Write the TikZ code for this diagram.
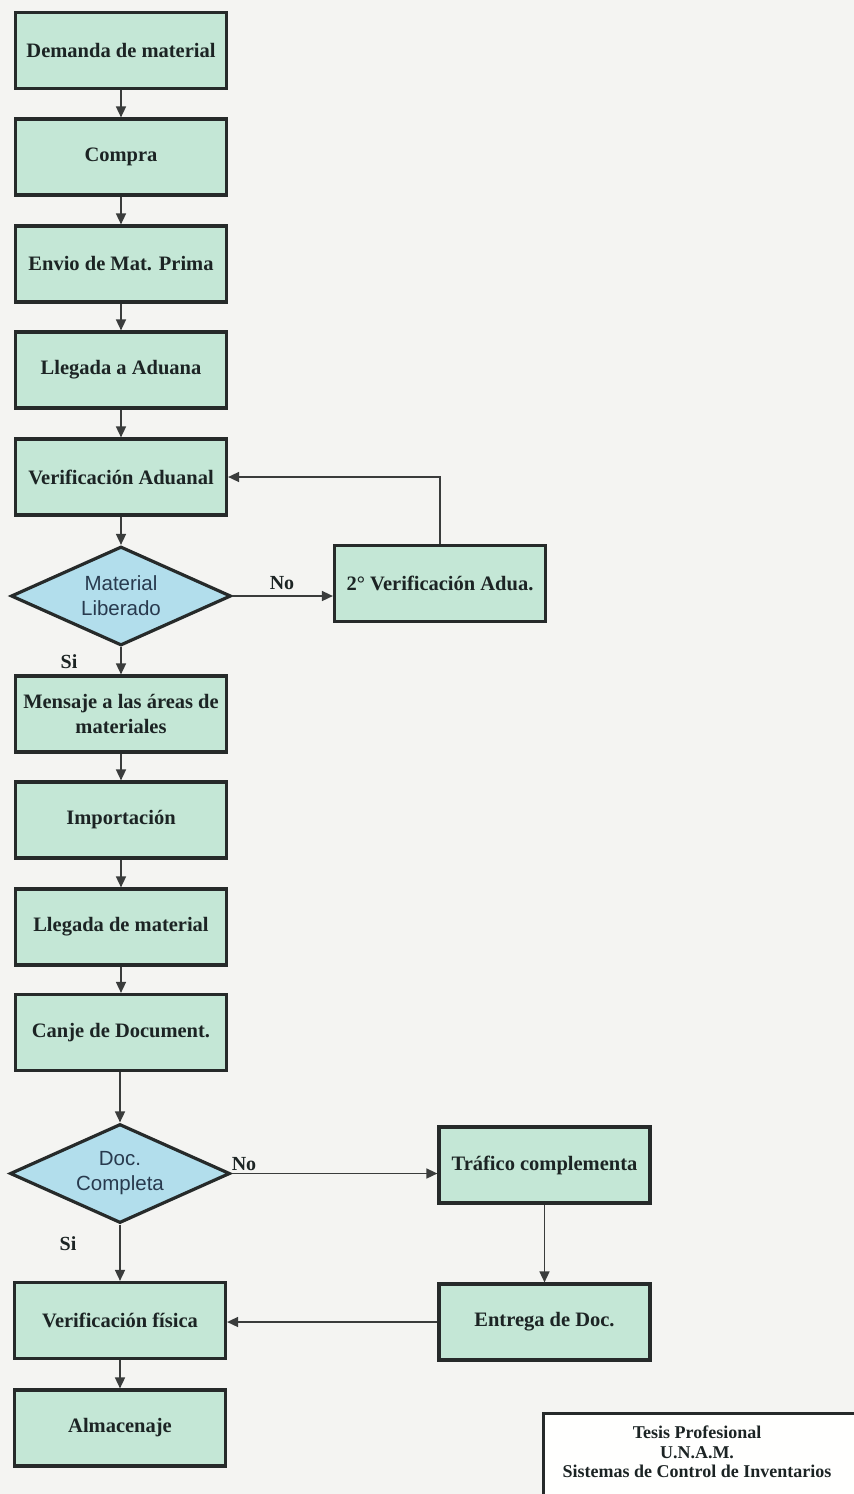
\documentclass[tikz,border=0pt]{standalone}
\usepackage{fontspec}
\setmainfont{Liberation Serif}
\newfontfamily\diamondfont{Liberation Sans}
\usetikzlibrary{shapes.geometric,arrows.meta}

\definecolor{paper}{RGB}{244,244,242}
\definecolor{stepfill}{RGB}{196,231,214}
\definecolor{askfill}{RGB}{178,222,236}
\definecolor{edge}{RGB}{38,42,42}
\definecolor{ink}{RGB}{28,36,36}
\definecolor{askink}{RGB}{40,58,78}
\definecolor{wire}{RGB}{58,60,60}

\begin{document}
\begin{tikzpicture}[x=1pt,y=-1pt,
  stepbox/.style={draw=edge, line width=3.2pt, fill=stepfill,
    minimum width=211pt, minimum height=76pt, inner sep=1pt, align=center,
    font=\bfseries\fontsize{20.5}{25}\selectfont, text=ink},
  askbox/.style={diamond, shape aspect=2.2, draw=edge, line width=3.2pt, fill=askfill,
    minimum width=220pt, minimum height=99pt, inner sep=0pt, align=center,
    font=\diamondfont\fontsize{20.5}{25}\selectfont, text=askink},
  flow/.style={draw=wire, line width=1.6pt, -{Triangle[length=11pt,width=10pt]}},
  tag/.style={font=\bfseries\fontsize{20}{24}\selectfont, text=ink, inner sep=0pt},
  creditbox/.style={draw=edge, line width=3pt, fill=white!96!paper},
  credittext/.style={align=center, inner sep=0pt, text=ink,
    font=\bfseries\fontsize{18}{19.5}\selectfont},
]
% page and its background
\useasboundingbox (0,0) rectangle (854,1494);
\fill[paper] (0,0) rectangle (854,1494);
\clip (0,0) rectangle (854,1494);

% main column of steps
\node[stepbox] (demanda)  at (121,50.5)  {Demanda de material};
\node[stepbox] (compra)   at (121,157)   {Compra};
\node[stepbox] (envio)    at (121,264)   {Envio de Mat. Prima};
\node[stepbox] (llegadaA) at (121,370)   {Llegada a Aduana};
\node[stepbox] (verifA)   at (121,477)   {Verificación Aduanal};
\node[askbox]  (liberado) at (121,596)   {Material\\Liberado};
\node[stepbox] (verif2)   at (440,583.5) {2° Verificación Adua.};
\node[stepbox] (mensaje)  at (121,714)   {Mensaje a las áreas de\\materiales};
\node[stepbox] (import)   at (121,820)   {Importación};
\node[stepbox] (llegadaM) at (121,927)   {Llegada de material};
\node[stepbox] (canje)    at (121,1032.5){Canje de Document.};
\node[askbox]  (completa) at (120,1173.5){Doc.\\Completa};
\node[stepbox] (trafico)  at (544.5,1165){Tráfico complementa};
\node[stepbox] (entrega)  at (544.5,1322){Entrega de Doc.};
\node[stepbox] (fisica)   at (120,1320.5){Verificación física};
\node[stepbox] (almacen)  at (120,1428)  {Almacenaje};

% connectors
\draw[flow] (demanda) -- (compra);
\draw[flow] (compra) -- (envio);
\draw[flow] (envio) -- (llegadaA);
\draw[flow] (llegadaA) -- (verifA);
\draw[flow] (verifA) -- (liberado.north);
\draw[flow] (liberado.east) -- (verif2.west |- liberado.east);
\draw[flow] (verif2.north) |- (verifA.east);
\draw[flow] (liberado.south) -- (mensaje.north);
\draw[flow] (mensaje) -- (import);
\draw[flow] (import) -- (llegadaM);
\draw[flow] (llegadaM) -- (canje);
\draw[flow] (canje.south -| completa.north) -- (completa.north);
\draw[flow] (completa.east) -- (trafico.west |- completa.east);
\draw[flow] (trafico) -- (entrega);
\draw[flow] (entrega.west) -- (fisica.east |- entrega.west);
\draw[flow] (completa.south) -- (fisica.north);
\draw[flow] (fisica) -- (almacen);

% branch labels
\node[tag] (no1) at (282,583) {No};
\node[tag] (si1) at (69,662) {Si};
\node[tag] (no2) at (244,1164) {No};
\node[tag] (si2) at (68,1244) {Si};

% credit block in the lower right corner
\draw[creditbox] (543,1413) rectangle (900,1540);
\node[credittext] (credit) at (697,1452)
  {Tesis Profesional\\U.N.A.M.\\Sistemas de Control de Inventarios};
\end{tikzpicture}
\end{document}
